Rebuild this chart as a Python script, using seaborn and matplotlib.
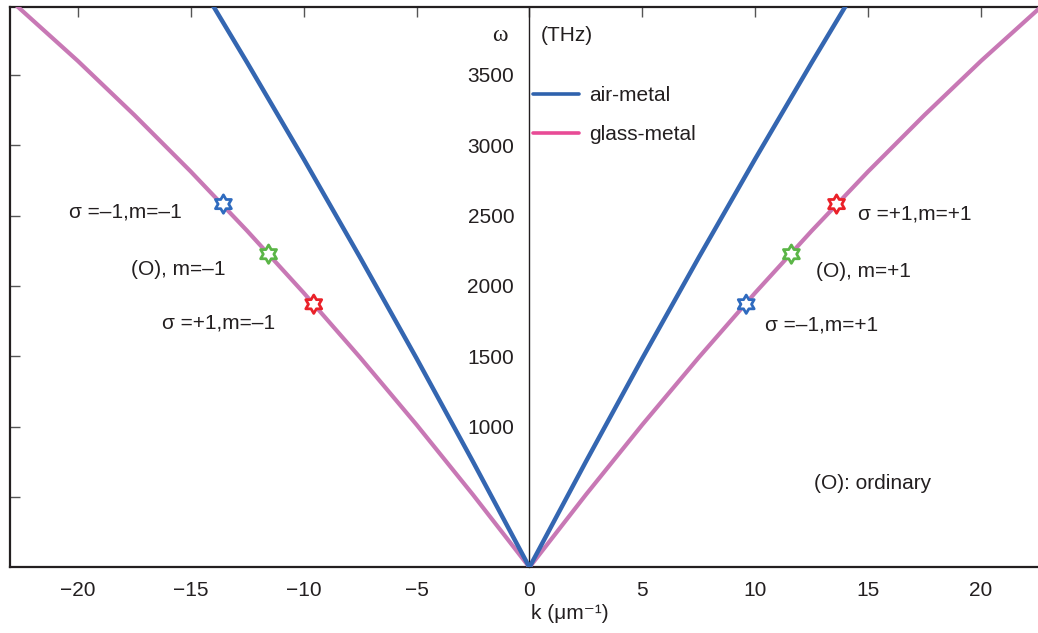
import matplotlib
matplotlib.use("Agg")
import matplotlib.pyplot as plt
import matplotlib.transforms as mtransforms
from matplotlib.lines import Line2D
from matplotlib.path import Path
import pandas as pd
import seaborn as sns

# ---- data ----
k_air = [-14.3, -12.5, -10.0, -7.5, -5.0, -2.5, 0.0, 2.5, 5.0, 7.5, 10.0, 12.5, 14.3]
w_air = [4070, 3588, 2904, 2203, 1486, 751, 0, 751, 1486, 2203, 2904, 3588, 4070]

k_glass = [-22.9, -20.0, -17.5, -15.0, -12.5, -10.0, -7.5, -5.0, -2.5, 0.0,
           2.5, 5.0, 7.5, 10.0, 12.5, 15.0, 17.5, 20.0, 22.9]
w_glass = [4020, 3600, 3216, 2814, 2392, 1952, 1492, 1014, 516, 0,
           516, 1014, 1492, 1952, 2392, 2814, 3216, 3600, 4020]

star_k = [-13.55, -11.55, -9.55, 9.6, 11.6, 13.6]
star_w = [2582, 2226, 1870, 1870, 2226, 2582]
star_colors = ["#2f6bbf", "#5bb547", "#ea2129", "#2f6bbf", "#5bb547", "#ea2129"]

x_ticks = [-20, -15, -10, -5, 0, 5, 10, 15, 20]
x_ticklabels = ["\u221220", "\u221215", "\u221210", "\u22125", "0", "5", "10", "15", "20"]
y_ticks = [500, 1000, 1500, 2000, 2500, 3000, 3500]
y_ticklabels = ["", "1000", "1500", "2000", "2500", "3000", "3500"]

ann_texts = ["\u03c3 =\u20131,m=\u20131", "(O), m=\u20131", "\u03c3 =+1,m=\u20131",
             "\u03c3 =+1,m=+1", "(O), m=+1", "\u03c3 =\u20131,m=+1", "(O): ordinary"]
ann_x = [-20.4, -17.65, -16.25, 14.55, 12.7, 10.45, 12.6]
ann_y = [2525, 2115, 1740, 2510, 2100, 1725, 595]

series_names = ["air-metal", "glass-metal"]
curve_colors = ["#3466b1", "#c878b5"]
legend_colors = ["#2f62ad", "#e84b96"]

# ---- styling ----
sns.set_style("white")
plt.rcParams["font.family"] = ["Liberation Sans", "DejaVu Sans"]
ink = "#231f20"
fs = 15

fig = plt.figure(figsize=(10.38, 6.33), dpi=100)
ax = fig.add_axes([10 / 1038, (633 - 567.3) / 633, 1 - 10 / 1038, 560.3 / 633])

df_air = pd.DataFrame({"k": k_air, "w": w_air})
df_glass = pd.DataFrame({"k": k_glass, "w": w_glass})
sns.lineplot(data=df_glass, x="k", y="w", ax=ax, color=curve_colors[1], lw=3.0,
             sort=False, estimator=None, zorder=3)
sns.lineplot(data=df_air, x="k", y="w", ax=ax, color=curve_colors[0], lw=3.2,
             sort=False, estimator=None, zorder=3)

hexagram = Path.unit_regular_star(6, innerCircle=0.577)
ax.scatter(star_k, star_w, marker=hexagram, s=175, facecolors="white",
           edgecolors=star_colors, linewidths=2.0, zorder=5)

ax.set_xlim(-23.0, 22.52)
ax.set_ylim(0, 3983)

# central y axis
ax.spines["left"].set_position(("data", 0))
ax.spines["left"].set_linewidth(1.0)
ax.spines["left"].set_color(ink)
ax.spines["right"].set_visible(False)
for s in ["top", "bottom"]:
    ax.spines[s].set_linewidth(1.6)
    ax.spines[s].set_color(ink)

ax.set_yticks(y_ticks)
ax.set_yticklabels(y_ticklabels)
ax.tick_params(axis="y", direction="out", length=7, width=1.0, color="#555555",
               labelsize=fs, labelcolor=ink, pad=4)
ax.set_xticks(x_ticks)
ax.set_xticklabels(x_ticklabels)
ax.tick_params(axis="x", direction="in", length=7, width=1.0, color="#555555",
               top=True, labelsize=fs, labelcolor=ink, pad=10)

# left frame with inward ticks
sec = ax.secondary_yaxis("left")
sec.set_yticks(y_ticks)
sec.tick_params(axis="y", direction="in", length=7, width=1.0, color="#555555",
                labelleft=False)
sec.spines["left"].set_linewidth(1.6)
sec.spines["left"].set_color(ink)

ax.set_xlabel("")
ax.set_ylabel("")

# axis labels
trans = mtransforms.blended_transform_factory(ax.transData, ax.transAxes)
ax.text(0.05, -0.083, "k (\u03bcm\u207b\u00b9)", transform=trans, ha="left", va="center",
        fontsize=fs, color=ink)
ax.text(-1.65, 3777, "\u03c9", ha="left", va="center", fontsize=17, color=ink,
        family=["Liberation Serif", "DejaVu Serif"])
ax.text(0.49, 3777, "(THz)", ha="left", va="center", fontsize=fs, color=ink)

for t, x, y in zip(ann_texts, ann_x, ann_y):
    ax.text(x, y, t, ha="left", va="center", fontsize=fs, color=ink)

handles = [Line2D([0], [0], color=c, lw=2.6) for c in legend_colors]
leg = ax.legend(handles, series_names, loc="upper left",
                bbox_to_anchor=(533 / 1038, 1 - 86 / 633), bbox_transform=fig.transFigure,
                frameon=False, fontsize=fs, handlelength=2.2, handletextpad=0.5,
                labelspacing=0.95, borderpad=0, borderaxespad=0)
for txt in leg.get_texts():
    txt.set_color(ink)

fig.savefig("out.png", dpi=100)
